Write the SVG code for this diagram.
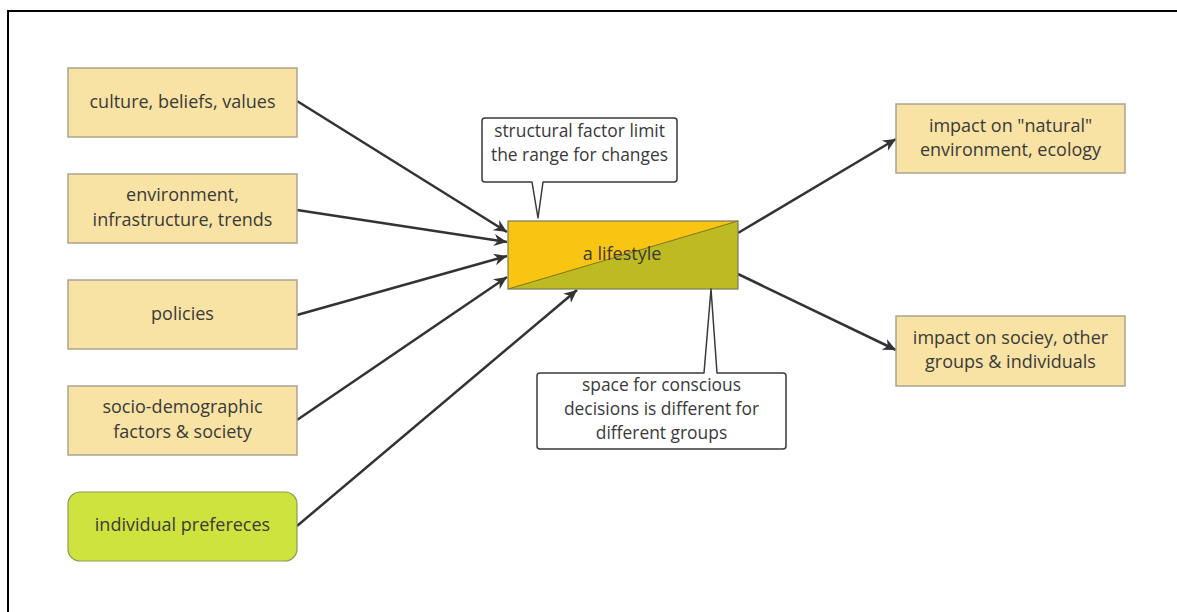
<svg xmlns="http://www.w3.org/2000/svg" width="1177" height="612" viewBox="0 0 1177 612">
<style>
text{font-family:"Open Sans","Noto Sans","Liberation Sans",sans-serif;font-size:18px;fill:#3a3a3a;text-anchor:middle}
.ct{font-size:17.4px}
.box{fill:#F8E3A4;stroke:#ABA48E;stroke-width:1.5}
.green{fill:#CFE33E;stroke:#8E9A55;stroke-width:1.2}
.call{fill:#fff;stroke:#3a3a3a;stroke-width:1.5;stroke-linejoin:round}
.con{stroke:#333;stroke-width:2.5;fill:none;marker-end:url(#ah)}
</style>
<defs>
<marker id="ah" markerUnits="userSpaceOnUse" markerWidth="14" markerHeight="14" viewBox="0 0 14 14" refX="13" refY="7" orient="auto">
<path d="M0,1 L13,7 L0,13 L4,7 z" fill="#333"/>
</marker>
</defs>
<rect width="1177" height="612" fill="#fff"/>
<path d="M8,612 V11 H1177" fill="none" stroke="#000" stroke-width="2"/>
<g id="connectors">
<line class="con" x1="297" y1="101" x2="507" y2="232"/>
<line class="con" x1="297" y1="210" x2="507" y2="242"/>
<line class="con" x1="297" y1="315" x2="507" y2="256"/>
<line class="con" x1="297" y1="420" x2="507" y2="277"/>
<line class="con" x1="297" y1="526" x2="577" y2="290"/>
<line class="con" x1="738" y1="233" x2="896" y2="139"/>
<line class="con" x1="738" y1="274" x2="896" y2="350"/>
</g>
<g id="n-culture">
<rect class="box" x="68" y="68" width="229" height="69"/>
<text x="182.5" y="108">culture, beliefs, values</text>
</g>
<g id="n-environment">
<rect class="box" x="68" y="174" width="229" height="69"/>
<text x="182.5" y="201">environment,</text>
<text x="182.5" y="226">infrastructure, trends</text>
</g>
<g id="n-policies">
<rect class="box" x="68" y="280" width="229" height="69"/>
<text x="182.5" y="320">policies</text>
</g>
<g id="n-socio">
<rect class="box" x="68" y="386" width="229" height="69"/>
<text x="182.5" y="413">socio-demographic</text>
<text x="182.5" y="438">factors &amp; society</text>
</g>
<g id="n-individual">
<rect class="green" x="68" y="492" width="229" height="69" rx="12"/>
<text x="182.5" y="531">individual prefereces</text>
</g>
<g id="n-lifestyle">
<polygon points="508,221 738,221 508,289" fill="#F8C512"/>
<polygon points="738,221 738,289 508,289" fill="#BEBB22"/>
<line x1="508" y1="289" x2="738" y2="221" stroke="#6b5a10" stroke-width="0.8"/>
<rect x="508" y="221" width="230" height="68" fill="none" stroke="#7b7b55" stroke-width="1.2"/>
<text x="622" y="260">a lifestyle</text>
</g>
<g id="n-structural">
<path class="call" d="M485,118 H674 Q677,118 677,121 V179 Q677,182 674,182 H543 L538,218 L532,182 H485 Q482,182 482,179 V121 Q482,118 485,118 Z"/>
<text class="ct" x="579.5" y="137">structural factor limit</text>
<text class="ct" x="579.5" y="161">the range for changes</text>
</g>
<g id="n-space">
<path class="call" d="M540,373 H704 L711,289 L717,373 H783 Q786,373 786,376 V446 Q786,449 783,449 H540 Q537,449 537,446 V376 Q537,373 540,373 Z"/>
<text class="ct" x="661.5" y="391">space for conscious</text>
<text class="ct" x="661.5" y="415">decisions is different for</text>
<text class="ct" x="661.5" y="439">different groups</text>
</g>
<g id="n-natural">
<rect class="box" x="896" y="104" width="229" height="69"/>
<text x="1010.5" y="132">impact on "natural"</text>
<text x="1010.5" y="156">environment, ecology</text>
</g>
<g id="n-society">
<rect class="box" x="896" y="316" width="229" height="70"/>
<text x="1010.5" y="344">impact on sociey, other</text>
<text x="1010.5" y="368">groups &amp; individuals</text>
</g>
</svg>
